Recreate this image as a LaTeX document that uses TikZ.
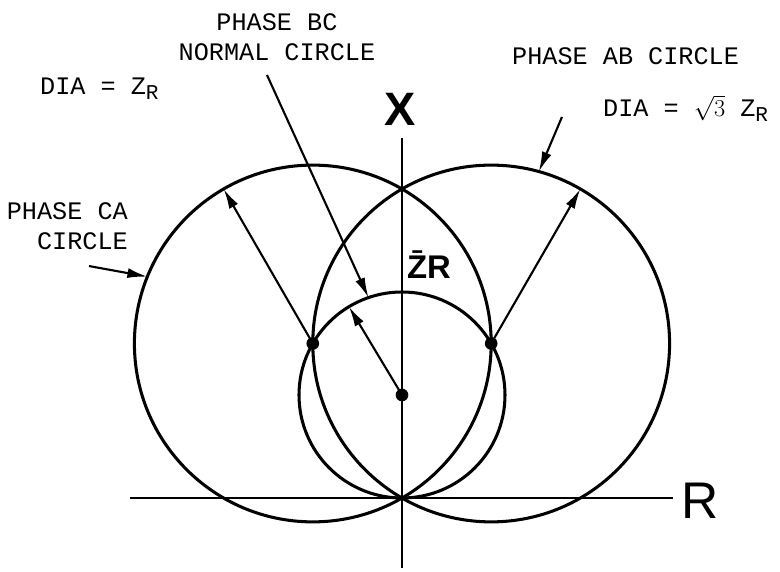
\documentclass[tikz,border=0pt]{standalone}
\usepackage{fontspec}
\setmonofont{Liberation Mono}
\setsansfont{Liberation Sans}
\usepackage{tikz}
\usetikzlibrary{arrows.meta, calc}
\newcommand{\lowsub}[1]{\raisebox{-0.35ex}{\fontsize{18}{18}\selectfont #1}}

\begin{document}
\begin{tikzpicture}[
    x=3.09cm, y=3.09cm,
    circ/.style={line width=2.6pt},
    axis/.style={line width=2.2pt},
    radius arrow/.style={-{Latex[length=6mm, width=3mm]}, line width=1.8pt},
    leader/.style={-{Latex[length=6mm, width=3mm]}, line width=1.8pt},
    label text/.style={font=\fontsize{21.5}{26}\selectfont\ttfamily, inner sep=0pt},
    hand/.style={font=\sffamily, inner sep=0pt},
    dot/.style={fill, circle, inner sep=0pt, minimum size=0.38cm},
]
\useasboundingbox (-3.903,-0.709) rectangle (3.670,4.835);

% centres
\coordinate (O) at (0,0);
\coordinate (C) at (0,1);
\coordinate (Lc) at (-0.866,1.5);
\coordinate (Rc) at (0.866,1.5);

% axes
\draw[axis] (-2.641,0) coordinate (rl) -- (2.631,0) coordinate (rr);
\draw[axis] (0,-0.68) coordinate (xb) -- (0,3.495) coordinate (xt);
\node[hand, font=\sffamily\bfseries\fontsize{40}{40}\selectfont] (xlab) at (-0.019,3.77) {X};
\node[hand, font=\sffamily\fontsize{44}{44}\selectfont] (rlab) at (2.893,-0.03) {R};

% circles
\draw[circ] (C) circle[radius=1];
\draw[circ] (Lc) circle[radius=1.732];
\draw[circ] (Rc) circle[radius=1.732];

\node[dot] (dc) at (C) {};
\node[dot] (dl) at (Lc) {};
\node[dot] (dr) at (Rc) {};

% radii
\draw[radius arrow] (C) -- ($(C)+(121:1)$);
\draw[radius arrow] (Lc) -- ($(Lc)+(120:1.732)$);
\draw[radius arrow] (Rc) -- ($(Rc)+(60:1.732)$);
\node[hand, font=\sffamily\bfseries\fontsize{28}{28}\selectfont] (zr) at (0.262,2.262) {\=ZR};

% labels
\node[label text, align=center] (bc) at (-1.214,4.476) {PHASE BC\\NORMAL CIRCLE};
\node[label text, anchor=base west] (diaz) at (-3.515,3.913) {DIA = Z\lowsub{R}};
\node[label text, align=right, anchor=east] (ca) at (-2.660,2.641) {PHASE CA\\CIRCLE};
\node[label text, anchor=base west] (ab) at (1.068,4.204) {PHASE AB CIRCLE};
\node[label text, anchor=base west] (diab) at (1.951,3.699) {DIA = $\sqrt{3}$ Z\lowsub{R}};

% leaders
\coordinate (bcs) at (-1.311,4.107);
\coordinate (cas) at (-3.039,2.252);
\coordinate (abs) at (1.553,3.699);
\draw[leader] (bcs) -- ($(C)+(109:1)$);
\draw[leader] (cas) -- ($(Lc)+(158:1.732)$);
\draw[leader] (abs) -- ($(Rc)+(74.5:1.732)$);
\end{tikzpicture}
\end{document}
